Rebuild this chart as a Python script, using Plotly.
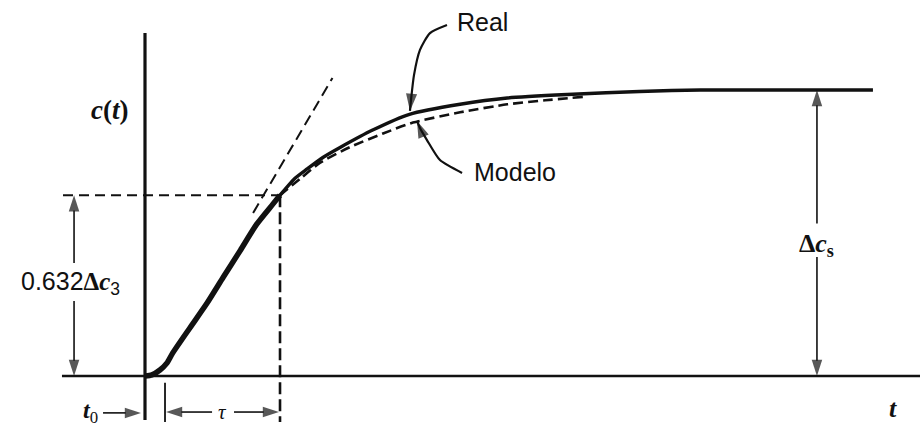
import plotly.graph_objects as go

# Step response: time in units where tau = 1, output normalised by the steady-state change
t_real = [0.0, 0.06, 0.13, 0.19, 0.24, 0.39, 0.54, 0.68, 0.83, 0.97, 1.11, 1.174,
          1.30, 1.41, 1.55, 1.70, 1.98, 2.30, 2.74, 3.15, 3.72, 4.30, 4.83, 6.33]
c_real = [0.0, 0.004, 0.021, 0.045, 0.080, 0.168, 0.255, 0.345, 0.440, 0.530, 0.600, 0.632,
          0.690, 0.724, 0.765, 0.800, 0.860, 0.915, 0.950, 0.972, 0.985, 0.995, 1.0, 1.0]

# First-order-plus-dead-time model drawn past the 63.2 % point
t_model = [1.174, 1.35, 1.52, 1.78, 2.07, 2.33, 2.74, 3.15, 3.48, 3.81]
c_model = [0.632, 0.690, 0.745, 0.800, 0.848, 0.886, 0.922, 0.950, 0.964, 0.976]

# Tangent at the inflection point
t_tangent = [0.94, 1.63]
c_tangent = [0.570, 1.042]

t0 = 0.0            # start of the step
theta = 0.174       # dead time
tau_end = 1.174     # theta + tau
frac = 0.632        # fraction of the steady-state change
dc_s = 1.0          # steady-state change

# Curved leader lines for the two curve labels (last point is the arrow tip)
real_leader_t = [2.626, 2.478, 2.391, 2.339, 2.313, 2.304]
real_leader_c = [1.227, 1.199, 1.140, 1.052, 0.965, 0.927]
model_leader_t = [2.757, 2.565, 2.452, 2.391, 2.365]
model_leader_c = [0.710, 0.755, 0.825, 0.867, 0.892]

X_RANGE = [-145 / 115, 775 / 115]
Y_RANGE = [-51 / 286, 376 / 286]

INK = "#111111"
SANS = "Liberation Sans, Arial, sans-serif"
SERIF = "Liberation Serif, Times New Roman, serif"

fig = go.Figure()


def line(x, y, width, dash="solid", shape="linear", head=0):
    """Stroke through the points; head > 0 puts an arrowhead on the last point."""
    n = len(x)
    trace = dict(
        x=x, y=y, mode="lines", hoverinfo="skip", showlegend=False,
        line=dict(color=INK, width=width, dash=dash, shape=shape, smoothing=0.6),
    )
    if head:
        trace["mode"] = "lines+markers"
        trace["marker"] = dict(
            symbol=["circle"] * (n - 1) + ["arrow"],
            size=[0] * (n - 1) + [head],
            angleref="previous", color=INK, line=dict(width=0),
        )
    fig.add_trace(go.Scatter(**trace))


# axes drawn as plain strokes
line([t0, t0], [-0.154, 1.199], 3.2)
line([-0.722, X_RANGE[1]], [0, 0], 2.6)

# 63.2 % construction lines
line([-0.713, tau_end], [frac, frac], 1.8, dash="10px,6px")
line([tau_end, tau_end], [frac, -0.161], 2.6, dash="12px,5px")
line([theta, theta], [-0.024, -0.161], 1.8)

# tangent
line(t_tangent, c_tangent, 2.0, dash="11px,6px")

# model (dashed) and the real response (solid, heavier on the rise)
line(t_model, c_model, 2.6, dash="10px,5px", shape="spline")
k = t_real.index(tau_end)
line(t_real[:k + 1], c_real[:k + 1], 5.5, shape="spline")
line(t_real[k - 1:], c_real[k - 1:], 3.4, shape="spline")

# leader lines for the labels
line(real_leader_t, real_leader_c, 2.2, shape="spline", head=18)
line(model_leader_t, model_leader_c, 2.2, shape="spline", head=18)

# dimension arrows
AH = 17
line([-0.617, -0.617], [0.395, frac], 1.6, head=AH)
line([-0.617, -0.617], [0.262, 0.0], 1.6, head=AH)
line([5.843, 5.843], [0.533, dc_s], 1.6, head=AH)
line([5.843, 5.843], [0.416, 0.0], 1.6, head=AH)
line([-0.365, -0.035], [-0.129, -0.129], 1.6, head=AH)
line([0.583, 0.183], [-0.126, -0.126], 1.6, head=AH)
line([0.774, 1.165], [-0.126, -0.126], 1.6, head=AH)

ann = []


def label(x, y, text, size, family):
    ann.append(dict(x=x, y=y, xref="x", yref="y", text=text, showarrow=False,
                    xanchor="center", yanchor="middle",
                    font=dict(size=size, family=family, color=INK)))


label(-0.652, 0.325,
      "0.632<b><span style='font-family:Liberation Serif'>Δ<i>c</i></span></b>"
      "<sub>3</sub>", 25, SANS)
label(5.843, 0.458, "<b>Δ<i>c</i><sub>s</sub></b>", 26, SERIF)
label(-0.478, -0.125, "<b><i>t</i></b><sub>0</sub>", 24, SERIF)
label(0.678, -0.126, "<i>τ</i>", 21, SERIF)
label(-0.304, 0.93, "<b><i>c</i>(<i>t</i>)</b>", 27, SERIF)
label(6.504, -0.112, "<b><i>t</i></b>", 26, SERIF)
label(2.939, 1.238, "Real", 25, SANS)
label(3.217, 0.713, "Modelo", 25, SANS)

fig.update_layout(
    width=920, height=427,
    margin=dict(l=0, r=0, t=0, b=0),
    paper_bgcolor="white", plot_bgcolor="white",
    xaxis=dict(range=X_RANGE, visible=False, fixedrange=True),
    yaxis=dict(range=Y_RANGE, visible=False, fixedrange=True),
    annotations=ann,
    showlegend=False,
)

fig.write_html("out.html")
